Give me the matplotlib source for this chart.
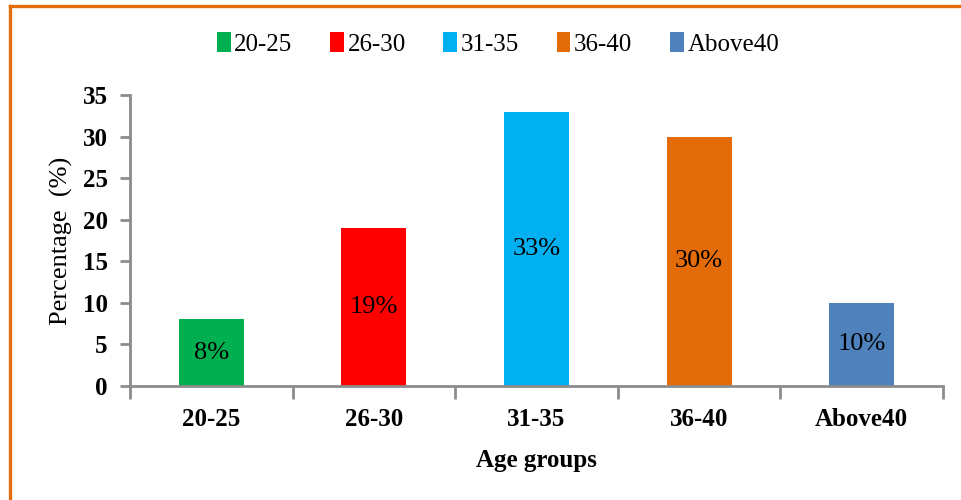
import matplotlib
matplotlib.use("Agg")
import matplotlib.pyplot as plt
from matplotlib.lines import Line2D
from matplotlib.patches import Patch
import numpy as np

# Age-group distribution (percent of respondents)
categories = ["20-25", "26-30", "31-35", "36-40", "Above40"]
percentages = [8, 19, 33, 30, 10]
bar_colors = ["#00B050", "#FF0000", "#00B0F0", "#E36C09", "#4F81BD"]
y_ticks = [0, 5, 10, 15, 20, 25, 30, 35]

plt.rcParams["font.family"] = ["Liberation Serif", "DejaVu Serif"]

W, H = 961, 500
fig = plt.figure(figsize=(W / 100, H / 100), dpi=100)
fig.patch.set_facecolor("white")

ax = fig.add_axes([130 / W, 1 - 386 / H, (943 - 130) / W, (386 - 95) / H])

x = np.arange(len(categories))
bars = ax.bar(x, percentages, width=0.4, color=bar_colors, zorder=2)

for rect, val in zip(bars, percentages):
    ax.text(rect.get_x() + rect.get_width() / 2, val / 2, f"{val}%",
            ha="center", va="center", fontsize=19, color="black")

ax.set_xlim(-0.5, len(categories) - 0.5)
ax.set_ylim(0, 35)
ax.set_yticks(y_ticks)
ax.set_xticks(x)
ax.set_xticklabels(categories, fontsize=18, fontweight="bold")
ax.set_xticks(np.arange(-0.5, len(categories), 1.0), minor=True)
ax.tick_params(axis="x", which="major", length=0, pad=16)
ax.tick_params(axis="x", which="minor", length=9, width=2, color="#8C8C8C",
               direction="out")
ax.tick_params(axis="y", length=7, width=2, color="#8C8C8C", pad=9,
               labelsize=18)
for lbl in ax.get_yticklabels():
    lbl.set_fontweight("bold")

for side in ["top", "right"]:
    ax.spines[side].set_visible(False)
for side in ["left", "bottom"]:
    ax.spines[side].set_color("#8C8C8C")
    ax.spines[side].set_linewidth(2)

ax.set_ylabel("Percentage  (%)", fontsize=19, labelpad=7)
ax.set_xlabel("Age groups", fontsize=18, fontweight="bold", labelpad=13)

handles = [Patch(facecolor=c, edgecolor="none") for c in bar_colors]
fig.legend(handles, categories, loc="center", bbox_to_anchor=(498 / W, 1 - 44 / H),
           ncol=5, frameon=False, fontsize=18, handlelength=0.55,
           handleheight=0.8, handletextpad=0.15, columnspacing=1.5)

# Orange frame along the top and left edges
border = "#E46C0A"
fig.add_artist(Line2D([9.5 / W, 1.0], [1 - 5.5 / H, 1 - 5.5 / H],
                      transform=fig.transFigure, color=border, linewidth=2.4))
fig.add_artist(Line2D([9.5 / W, 9.5 / W], [0.0, 1 - 5.5 / H],
                      transform=fig.transFigure, color=border, linewidth=2.4))

fig.savefig("out.png", dpi=100, facecolor="white")
